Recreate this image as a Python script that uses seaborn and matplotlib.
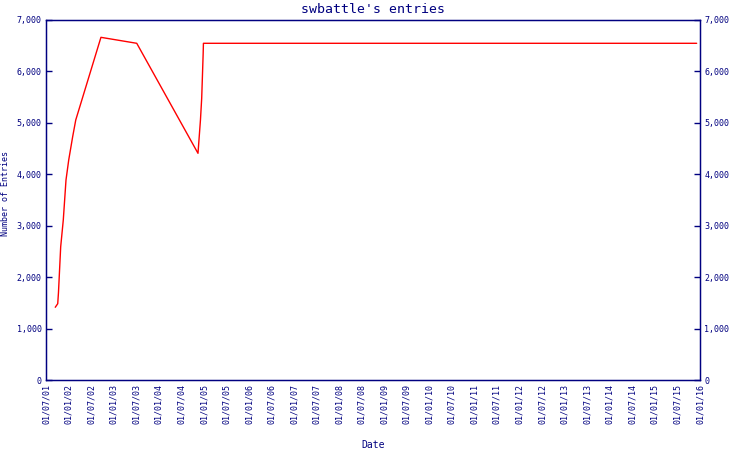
import pandas as pd
import seaborn as sns
from matplotlib import pyplot as plt
import matplotlib.dates as mdates
import matplotlib.ticker as mtick

# Entries over time
dates = ["2001-09-14", "2001-10-04", "2001-10-10", "2001-10-28", "2001-11-18",
         "2001-12-10", "2002-01-01", "2002-02-02", "2002-02-27", "2002-09-19",
         "2003-07-06", "2004-11-13", "2004-11-20", "2004-12-03", "2004-12-13",
         "2004-12-19", "2004-12-25", "2004-12-27", "2015-12-05"]
entries = [1414, 1484, 1700, 2592, 3111,
           3889, 4278, 4731, 5056, 6663,
           6547, 4408, 4634, 5056, 5477,
           5911, 6352, 6547, 6547]

navy = '#000080'

sns.set_style("white")
plt.rcParams['font.family'] = ['DejaVu Sans Mono']
plt.rcParams.update({'text.color': navy, 'axes.labelcolor': navy,
                     'xtick.color': navy, 'ytick.color': navy})

df = pd.DataFrame({'date': pd.to_datetime(dates), 'entries': entries})

fig = plt.figure(figsize=(7.5, 4.5), dpi=100)
ax = fig.add_axes([46 / 750, 70 / 450, 654 / 750, 360 / 450])

sns.lineplot(data=df, x='date', y='entries', ax=ax, color='red', linewidth=1)

ax.set_xlim(pd.Timestamp('2001-07-01'), pd.Timestamp('2016-01-01'))
ax.set_ylim(0, 7000)
ax.xaxis.set_major_locator(mdates.MonthLocator(bymonth=[1, 7]))
ax.xaxis.set_major_formatter(mdates.DateFormatter('%d/%m/%y'))
ax.yaxis.set_major_locator(mtick.MultipleLocator(1000))
ax.yaxis.set_major_formatter(mtick.StrMethodFormatter('{x:,.0f}'))

for label in ax.get_xticklabels():
    label.set_rotation(90)

ax.tick_params(axis='both', direction='in', length=4, width=1, labelsize=6, pad=3)
for spine in ax.spines.values():
    spine.set_color(navy)
    spine.set_linewidth(1)

ax.set_title("swbattle's entries", fontsize=9.5, color=navy, pad=5)
ax.set_xlabel('Date', fontsize=7)
ax.set_ylabel('Number of Entries', fontsize=6)
ax.xaxis.set_label_coords(0.5, -0.167)
ax.yaxis.set_label_coords(-0.055, 0.519)

ax2 = ax.twinx()
ax2.set_ylim(0, 7000)
ax2.yaxis.set_major_locator(mtick.MultipleLocator(1000))
ax2.yaxis.set_major_formatter(mtick.StrMethodFormatter('{x:,.0f}'))
ax2.tick_params(axis='y', direction='in', length=4, width=1, labelsize=6, pad=3, colors=navy)
for spine in ax2.spines.values():
    spine.set_color(navy)

plt.savefig('out.png', dpi=100)
